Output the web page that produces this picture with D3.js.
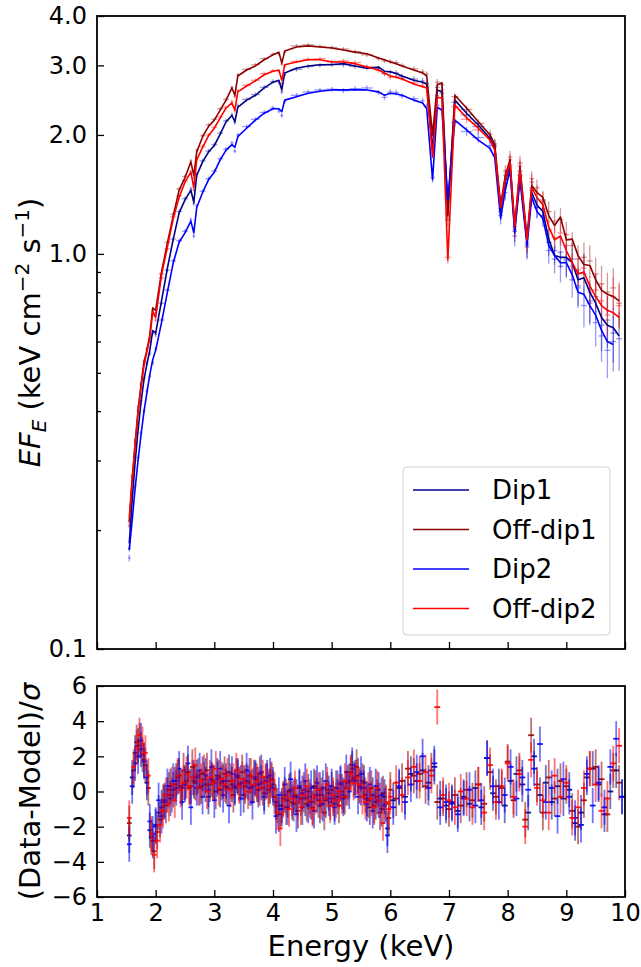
<!DOCTYPE html>
<html>
<head>
<meta charset="utf-8">
<script src="https://cdn.jsdelivr.net/npm/d3@7"></script>
<style>
  html, body { margin: 0; padding: 0; background: #fff; }
  svg { display: block; font-family: "DejaVu Sans", sans-serif; }
</style>
</head>
<body>
<div id="chart"></div>
<script>
// energies (keV) of the spectral bins shown in the upper panel
const energy = [
  1.55, 1.60, 1.65, 1.70, 1.75, 1.80, 1.85, 1.90, 1.95, 2.00,
  2.10, 2.20, 2.30, 2.40, 2.50, 2.60, 2.65, 2.70, 2.80, 2.90,
  3.00, 3.10, 3.20, 3.30, 3.35, 3.40, 3.55, 3.70, 3.85, 4.00,
  4.10, 4.15, 4.20, 4.40, 4.60, 4.80, 5.00, 5.20, 5.40, 5.60,
  5.80, 5.90, 6.00, 6.10, 6.20, 6.40, 6.55, 6.62, 6.72, 6.80,
  6.88, 6.98, 7.10, 7.30, 7.50, 7.70, 7.78, 7.88, 7.96, 8.04,
  8.12, 8.21, 8.33, 8.41, 8.50, 8.60, 8.70, 8.80, 8.90, 9.00,
  9.10, 9.20, 9.30, 9.40, 9.50, 9.60, 9.70, 9.80, 9.90
];

// model EF_E (keV cm^-2 s^-1)
const modelDip1 = [
  0.185, 0.238, 0.297, 0.358, 0.42, 0.48, 0.525, 0.57, 0.64, 0.63,
  0.76, 0.92, 1.09, 1.27, 1.37, 1.45, 1.35, 1.58, 1.71, 1.81,
  1.88, 2.01, 2.16, 2.24, 2.16, 2.35, 2.45, 2.52, 2.63, 2.72,
  2.75, 2.60, 2.87, 2.95, 2.99, 3.01, 3.01, 3.03, 2.99, 2.95,
  2.97, 2.90, 2.89, 2.86, 2.82, 2.75, 2.72, 2.69, 1.83, 2.60,
  2.57, 1.29, 2.45, 2.27, 2.12, 1.96, 1.85, 1.29, 1.52, 1.68,
  1.15, 1.58, 1.07, 1.43, 1.33, 1.28, 1.09, 0.99, 0.98, 0.98,
  0.95, 0.86, 0.87, 0.80, 0.75, 0.69, 0.66, 0.65, 0.62
];
const modelOff1 = [
  0.21, 0.268, 0.332, 0.403, 0.466, 0.532, 0.57, 0.623, 0.73, 0.72,
  0.90, 1.066, 1.25, 1.45, 1.56, 1.71, 1.58, 1.81, 1.98, 2.10,
  2.18, 2.31, 2.45, 2.63, 2.52, 2.82, 2.92, 2.99, 3.10, 3.19,
  3.24, 3.04, 3.26, 3.34, 3.36, 3.34, 3.32, 3.28, 3.24, 3.21,
  3.13, 3.10, 3.06, 3.03, 2.99, 2.92, 2.87, 2.82, 2.00, 2.68,
  2.71, 1.25, 2.52, 2.34, 2.16, 2.00, 1.89, 1.33, 1.58, 1.73,
  1.18, 1.66, 1.10, 1.49, 1.43, 1.39, 1.25, 1.18, 1.24, 1.085,
  1.09, 0.99, 0.94, 0.935, 0.86, 0.81, 0.79, 0.78, 0.76
];
const modelDip2 = [
  0.178, 0.212, 0.255, 0.30, 0.348, 0.398, 0.445, 0.495, 0.54, 0.57,
  0.67, 0.80, 0.95, 1.07, 1.13, 1.21, 1.13, 1.31, 1.43, 1.54,
  1.61, 1.73, 1.83, 1.89, 1.86, 1.98, 2.08, 2.18, 2.27, 2.33,
  2.33, 2.29, 2.45, 2.50, 2.55, 2.58, 2.60, 2.60, 2.60, 2.60,
  2.57, 2.52, 2.55, 2.54, 2.52, 2.45, 2.41, 2.33, 1.54, 2.35,
  2.31, 1.37, 2.18, 2.06, 1.94, 1.85, 1.75, 1.23, 1.45, 1.63,
  1.13, 1.54, 1.05, 1.39, 1.28, 1.23, 1.05, 0.99, 0.95, 0.95,
  0.885, 0.80, 0.79, 0.74, 0.70, 0.64, 0.60, 0.59, null
];
const modelOff2 = [
  0.215, 0.27, 0.328, 0.396, 0.458, 0.52, 0.565, 0.613, 0.715, 0.69,
  0.885, 1.04, 1.23, 1.39, 1.52, 1.61, 1.47, 1.73, 1.86, 1.99,
  2.08, 2.21, 2.34, 2.41, 2.31, 2.57, 2.66, 2.74, 2.84, 2.90,
  2.92, 2.75, 3.01, 3.06, 3.10, 3.10, 3.06, 3.06, 3.03, 2.97,
  2.92, 2.87, 2.82, 2.80, 2.77, 2.69, 2.65, 2.63, 1.76, 2.49,
  2.48, 0.965, 2.38, 2.21, 2.08, 1.94, 1.83, 1.31, 1.54, 1.70,
  1.17, 1.63, 1.085, 1.47, 1.39, 1.33, 1.17, 1.085, 1.11, 1.02,
  0.95, 0.89, 0.90, 0.83, 0.78, 0.74, 0.72, 0.71, 0.69
];

// measured EF_E at the same energies
const dataDip1 = [
  0.18, 0.242, 0.30, 0.362, 0.425, 0.485, 0.53, 0.56, 0.63, 0.625,
  0.75, 0.91, 1.09, 1.28, 1.38, 1.46, 1.34, 1.59, 1.72, 1.82,
  1.89, 2.02, 2.17, 2.25, 2.15, 2.37, 2.46, 2.53, 2.64, 2.73,
  2.72, 2.57, 2.84, 2.93, 2.98, 3.00, 3.02, 3.01, 2.98, 2.96,
  2.95, 2.86, 2.88, 2.87, 2.81, 2.77, 2.74, 2.70, 1.85, 2.64,
  2.55, 1.27, 2.42, 2.25, 2.10, 1.97, 1.88, 1.28, 1.51, 1.68,
  1.14, 1.62, 1.05, 1.47, 1.31, 1.30, 1.07, 0.97, 1.01, 0.96,
  0.97, 0.83, 0.89, 0.76, 0.78, 0.66, 0.68, 0.60, 0.61
];
const dataOff1 = [
  0.205, 0.272, 0.338, 0.41, 0.47, 0.535, 0.575, 0.61, 0.72, 0.71,
  0.89, 1.07, 1.26, 1.46, 1.57, 1.72, 1.56, 1.83, 1.99, 2.12,
  2.19, 2.33, 2.46, 2.64, 2.50, 2.84, 2.93, 3.01, 3.12, 3.20,
  3.21, 3.02, 3.24, 3.36, 3.38, 3.35, 3.33, 3.30, 3.25, 3.19,
  3.12, 3.08, 3.07, 3.05, 3.00, 2.94, 2.89, 2.85, 2.02, 2.72,
  2.68, 1.22, 2.50, 2.32, 2.14, 2.01, 1.90, 1.35, 1.62, 1.76,
  1.17, 1.70, 1.06, 1.55, 1.47, 1.37, 1.28, 1.21, 1.22, 1.12,
  1.05, 0.97, 0.98, 0.96, 0.89, 0.84, 0.80, 0.82, 0.75
];
const dataDip2 = [
  0.17, 0.216, 0.258, 0.305, 0.352, 0.40, 0.45, 0.49, 0.53, 0.575,
  0.68, 0.81, 0.96, 1.08, 1.14, 1.22, 1.11, 1.32, 1.44, 1.55,
  1.62, 1.74, 1.84, 1.91, 1.82, 2.00, 2.10, 2.19, 2.28, 2.34,
  2.30, 2.24, 2.43, 2.52, 2.57, 2.60, 2.61, 2.59, 2.62, 2.63,
  2.56, 2.49, 2.57, 2.56, 2.51, 2.47, 2.44, 2.36, 1.56, 2.38,
  2.33, 1.40, 2.15, 2.04, 1.97, 1.88, 1.79, 1.25, 1.43, 1.66,
  1.11, 1.58, 1.04, 1.45, 1.31, 1.25, 1.02, 1.02, 0.93, 0.97,
  0.86, 0.82, 0.74, 0.75, 0.67, 0.62, 0.57, 0.63, null
];
const dataOff2 = [
  0.21, 0.275, 0.333, 0.40, 0.465, 0.525, 0.57, 0.60, 0.70, 0.68,
  0.87, 1.03, 1.24, 1.40, 1.53, 1.62, 1.45, 1.74, 1.87, 2.00,
  2.09, 2.22, 2.35, 2.43, 2.30, 2.59, 2.67, 2.75, 2.86, 2.91,
  2.90, 2.70, 2.99, 3.07, 3.11, 3.12, 3.07, 3.08, 3.05, 2.98,
  2.91, 2.86, 2.80, 2.81, 2.78, 2.71, 2.67, 2.64, 1.79, 2.52,
  2.60, 0.98, 2.36, 2.19, 2.06, 1.96, 1.86, 1.30, 1.58, 1.73,
  1.15, 1.67, 1.07, 1.52, 1.42, 1.36, 1.15, 1.10, 1.13, 1.05,
  0.93, 0.91, 0.92, 0.80, 0.81, 0.76, 0.70, 0.78, 0.74
];

// 1-sigma errors in percent
const errOff = [
  1.5, 1.4, 1.3, 1.2, 1.2, 1.2, 1.1, 1.1, 1.1, 1.1,
  1.0, 1.0, 1.0, 1.0, 1.0, 1.0, 1.0, 1.0, 1.0, 1.0,
  1.0, 1.0, 1.0, 1.0, 1.0, 1.0, 1.0, 1.0, 1.0, 1.0,
  1.0, 1.0, 1.0, 1.1, 1.1, 1.1, 1.1, 1.1, 1.2, 1.2,
  1.2, 1.2, 1.3, 1.3, 1.3, 1.4, 1.5, 1.5, 2.5, 1.8,
  1.8, 3.5, 2.0, 2.2, 2.4, 2.6, 2.8, 4.0, 3.5, 3.5,
  5.0, 4.0, 5.5, 4.5, 5.0, 5.5, 6.0, 6.5, 7.0, 7.5,
  8.0, 8.5, 9.0, 9.5, 10, 11, 12, 12, 13
];
const errDip = [
  2.0, 1.8, 1.7, 1.6, 1.5, 1.5, 1.4, 1.4, 1.4, 1.4,
  1.3, 1.3, 1.3, 1.3, 1.3, 1.3, 1.3, 1.3, 1.3, 1.3,
  1.3, 1.3, 1.3, 1.3, 1.3, 1.3, 1.3, 1.3, 1.3, 1.3,
  1.3, 1.3, 1.3, 1.3, 1.3, 1.3, 1.4, 1.4, 1.4, 1.4,
  1.4, 1.5, 1.5, 1.6, 1.6, 1.7, 1.8, 1.8, 3.0, 2.2,
  2.2, 4.0, 2.5, 2.7, 3.0, 3.2, 3.5, 5.0, 4.5, 4.5,
  6.0, 5.0, 7.0, 5.5, 6.0, 6.5, 7.5, 8.0, 9.0, 9.5,
  10, 11, 12, 12, 13, 14, 15, 16, 17
];

// residual panel energies (keV): dip spectra and off-dip spectra
const resEnergyDip = [
  1.55, 1.60, 1.65, 1.70, 1.75, 1.80, 1.85, 1.90, 1.95, 2.00,
  2.05, 2.10, 2.15, 2.20, 2.25, 2.30, 2.35, 2.40, 2.45, 2.50,
  2.55, 2.60, 2.65, 2.70, 2.75, 2.80, 2.85, 2.90, 2.95, 3.00,
  3.05, 3.10, 3.15, 3.20, 3.25, 3.30, 3.35, 3.40, 3.45, 3.50,
  3.55, 3.60, 3.65, 3.70, 3.75, 3.80, 3.85, 3.90, 3.95, 4.00,
  4.05, 4.10, 4.15, 4.20, 4.25, 4.30, 4.35, 4.40, 4.45, 4.50,
  4.55, 4.60, 4.65, 4.70, 4.75, 4.80, 4.85, 4.90, 4.95, 5.00,
  5.05, 5.10, 5.15, 5.20, 5.25, 5.30, 5.35, 5.40, 5.45, 5.50,
  5.55, 5.60, 5.65, 5.70, 5.75, 5.80, 5.85, 5.90, 5.95,
  6.05, 6.15, 6.25, 6.35, 6.45, 6.55, 6.65, 6.75, 6.85, 6.95,
  7.05, 7.15, 7.25, 7.35, 7.45, 7.55, 7.65, 7.75, 7.85, 7.95,
  8.05, 8.15, 8.25, 8.35, 8.45, 8.55, 8.65, 8.75, 8.85, 8.95,
  9.05, 9.15, 9.25, 9.35, 9.45, 9.55, 9.65, 9.75, 9.85, 9.95
];
const resEnergyOff = [
  1.55, 1.625, 1.675, 1.725, 1.775, 1.825, 1.875, 1.925, 1.975, 2.025,
  2.075, 2.125, 2.175, 2.225, 2.275, 2.325, 2.375, 2.425, 2.475, 2.525,
  2.575, 2.625, 2.675, 2.725, 2.775, 2.825, 2.875, 2.925, 2.975, 3.025,
  3.075, 3.125, 3.175, 3.225, 3.275, 3.325, 3.375, 3.425, 3.475, 3.525,
  3.575, 3.625, 3.675, 3.725, 3.775, 3.825, 3.875, 3.925, 3.975, 4.025,
  4.075, 4.125, 4.175, 4.225, 4.275, 4.325, 4.375, 4.425, 4.475, 4.525,
  4.575, 4.625, 4.675, 4.725, 4.775, 4.825, 4.875, 4.925, 4.975, 5.025,
  5.075, 5.125, 5.175, 5.225, 5.275, 5.325, 5.375, 5.425, 5.475, 5.525,
  5.575, 5.625, 5.675, 5.725, 5.775, 5.825, 5.875, 5.925, 5.975,
  6.00, 6.10, 6.20, 6.30, 6.40, 6.50, 6.60, 6.70, 6.80, 6.90,
  7.00, 7.10, 7.20, 7.30, 7.40, 7.50, 7.60, 7.70, 7.80, 7.90,
  8.00, 8.10, 8.20, 8.30, 8.40, 8.50, 8.60, 8.70, 8.80, 8.90,
  9.00, 9.10, 9.20, 9.30, 9.40, 9.50, 9.60, 9.70, 9.80, 9.90
];

// (Data-Model)/sigma
const resDip1 = [
  -2.5, 0.8, 2.2, 2.6, 2.4, 1.8, 0.5, -2.2, -2.8, -1.9,
  -1.2, -0.9, -0.5, -0.2, 0.3, 0.1, 0.6, 0.9, 0.2, 0.5,
  1.1, 0.3, 0.6, 0.8, 0.2, 1.0, 0.4, -0.3, 0.7, 0.5,
  0.9, 0.1, 0.6, 0.3, 1.1, 0.4, 0.2, 0.8, 0.5, -0.2,
  0.6, 0.9, 0.3, 0.7, 0.1, 0.5, -0.1, 0.8, 0.3, 0.4,
  -0.6, -1.3, -0.8, -0.2, -0.5, 0.1, -0.7, -0.3, 0.2, -0.9,
  -0.4, 0.0, -0.6, 0.3, -0.2, -0.8, 0.2, -0.5, -0.1, 0.1,
  -0.7, -0.3, 0.4, -0.4, 0.2, 0.6, 1.3, 0.8, 0.9, 0.2,
  0.5, -0.4, -0.9, -0.2, -0.6, 0.1, -1.0, -0.3, -2.1,
  -0.5, 0.2, -0.3, 1.0, 0.6, 1.2, 0.5, 1.4, -0.4, -0.8,
  -0.6, -1.1, -0.3, -0.7, 0.2, -0.9, 1.9, -0.1, 0.3, -0.8,
  0.6, 1.0, 0.4, -1.2, 2.0, -0.2, 0.5, -0.6, 0.3, -0.4,
  0.1, -1.8, -1.2, 0.8, 1.3, 0.4, -1.3, 0.0, 1.2, -0.3
];
const resOff1 = [
  -1.8, 1.2, 2.8, 2.9, 2.1, 1.5, 0.2, -2.6, -3.4, -2.3,
  -1.6, -0.6, -0.8, 0.1, -0.2, 0.4, 0.8, 0.3, 1.2, 0.6,
  0.2, 1.4, 0.5, 0.9, 0.3, 0.7, 1.2, 0.4, 0.6, 0.0,
  0.8, 0.5, 1.0, 0.2, 0.6, -0.2, 0.9, 0.4, 1.1, 0.3,
  0.5, 0.2, 0.8, 0.4, 1.0, 0.2, 0.6, 0.1, 0.7, -0.3,
  -0.8, -1.0, -0.4, -0.9, 0.0, -0.6, -0.2, -1.1, -0.4, 0.1,
  -0.7, -0.3, -0.9, 0.2, -0.5, -0.2, -1.2, 0.1, -0.6, -0.4,
  0.2, -0.8, 0.0, -0.3, 0.5, 1.1, 0.7, 1.4, 0.3, 0.6,
  -0.2, -0.5, 0.2, -0.8, -0.3, -1.2, -0.1, -0.7, -1.5,
  0.1, -0.4, 0.6, 1.3, 0.9, 1.0, 0.3, 1.2, -0.6, -0.4,
  -1.0, -0.2, -0.8, 0.1, -0.5, 0.4, -0.7, 1.1, -0.3, 0.2,
  1.7, -0.5, 1.2, -1.6, 3.2, 0.4, -1.2, 0.8, -0.4, 0.6,
  0.3, -1.1, -2.0, -0.5, 1.3, 1.4, 0.7, -1.3, 1.2, 0.5
];
const resDip2 = [
  -3.0, 0.3, 1.6, 2.0, 2.9, 1.7, 0.8, -1.7, -2.4, -2.0,
  -0.5, -1.4, -0.6, 0.3, -0.4, 0.6, 0.2, 1.3, -0.6, 0.4,
  1.6, -0.9, 0.8, 0.2, 1.2, -0.3, 0.9, 0.1, 1.4, -0.5,
  0.7, 1.3, -0.2, 0.6, -0.8, 1.0, 0.3, 0.9, -0.4, 0.5,
  1.2, 0.2, -0.6, 0.8, 0.4, 1.1, -0.3, 0.6, 0.9, 0.2,
  -1.4, -0.2, -1.0, 0.4, -0.9, 0.7, -0.3, -1.3, 0.3, -0.1,
  0.6, -0.8, 0.2, -1.1, 0.5, 0.1, -0.7, 0.6, -0.4, 0.3,
  -0.9, 0.2, 0.5, -0.2, 1.1, 0.0, 1.5, 0.6, -0.3, 1.0,
  0.2, -0.7, 0.4, -1.1, 0.3, -0.5, -0.2, -0.8, -2.5,
  -0.9, 0.3, -0.6, 0.4, 1.1, 2.0, 0.2, 1.6, -0.9, -0.6,
  -0.7, -1.3, -0.4, 0.1, -0.8, -0.5, 1.9, 0.3, -0.6, -0.2,
  1.4, -0.4, 0.8, 0.1, 1.3, 2.7, -0.6, 0.2, -1.4, 0.7,
  -0.3, -1.5, -1.9, 1.0, -0.8, 0.5, -0.9, 1.4, 3.0, -0.3
];
const resOff2 = [
  -1.5, 1.4, 2.5, 3.2, 2.7, 2.2, 0.9, -2.4, -3.6, -2.8,
  -1.9, -1.1, -0.2, -0.7, 0.4, -0.5, 0.9, 0.1, 0.5, 1.0,
  0.3, 0.8, 1.5, 0.2, 0.6, 1.1, 0.0, 0.8, 0.5, 1.3,
  0.2, 0.7, 0.4, 0.9, 0.1, 0.6, 1.2, 0.3, 0.7, 0.5,
  0.0, 0.9, 0.4, 0.6, 0.2, 0.8, 0.5, 0.3, 0.6, 0.1,
  -1.2, -2.1, -0.5, -0.3, -1.0, -0.4, 0.2, -0.6, -0.9, -0.2,
  0.3, -0.5, -1.0, -0.3, 0.1, -0.6, -0.4, 0.4, -0.8, -0.2,
  -0.5, 0.0, -0.3, 0.6, 0.2, 1.0, 0.5, 0.8, 0.4, -0.3,
  -0.6, 0.1, -0.4, -0.9, 0.2, -0.5, -1.8, -0.6, -1.0,
  -0.3, 0.5, -0.2, 0.8, 1.4, 0.6, 1.1, 0.9, 4.8, -0.2,
  -0.5, -0.9, 0.0, -0.4, -0.9, 0.4, -1.2, 1.5, -0.6, 0.3,
  1.6, -0.3, 1.0, -2.0, 1.8, 0.2, -0.5, -1.2, 0.9, -0.3,
  0.5, -1.5, -0.9, 0.2, 1.3, 0.4, -1.1, -0.4, 1.6, 2.6
];

const seriesNames = ["Dip1", "Off-dip1", "Dip2", "Off-dip2"];
const seriesColors = ["#00008b", "#8b0000", "#0000ff", "#ff0000"];
const yTickValues = [0.1, 1.0, 2.0, 3.0, 4.0];
const yMinorValues = [0.2, 0.3, 0.4, 0.5, 0.6, 0.7, 0.8, 0.9];
const xTickValues = [1, 2, 3, 4, 5, 6, 7, 8, 9, 10];
const resTickValues = [-6, -4, -2, 0, 2, 4, 6];

const series = seriesNames.map((name, i) => ({
    name,
    color: seriesColors[i],
    model: [modelDip1, modelOff1, modelDip2, modelOff2][i],
    data: [dataDip1, dataOff1, dataDip2, dataOff2][i],
    err: [errDip, errOff, errDip, errOff][i],
    resE: [resEnergyDip, resEnergyOff, resEnergyDip, resEnergyOff][i],
    res: [resDip1, resOff1, resDip2, resOff2][i]
}));

const width = 641, height = 967;
const left = 97, right = 625;
const topY0 = 16, topY1 = 649;
const resY0 = 686, resY1 = 897;

const svg = d3.select("#chart").append("svg")
    .attr("width", width)
    .attr("height", height);

const x = d3.scaleLinear().domain([1, 10]).range([left, right]);
const y = d3.scaleLog().domain([0.1, 4]).range([topY1, topY0]);
const yr = d3.scaleLinear().domain([-6, 6]).range([resY1, resY0]);

// half bin width from neighbouring bins
function halfWidths(arr) {
    return arr.map((e, i) => {
        const prev = i > 0 ? e - arr[i - 1] : arr[1] - arr[0];
        const next = i < arr.length - 1 ? arr[i + 1] - e : prev;
        return Math.min(prev, next) / 2;
    });
}
const hwTop = halfWidths(energy);

// clip paths
const defs = svg.append("defs");
defs.append("clipPath").attr("id", "clipTop").append("rect")
    .attr("x", left).attr("y", topY0).attr("width", right - left).attr("height", topY1 - topY0);
defs.append("clipPath").attr("id", "clipRes").append("rect")
    .attr("x", left).attr("y", resY0).attr("width", right - left).attr("height", resY1 - resY0);

// ---- upper panel: data points
const topG = svg.append("g").attr("clip-path", "url(#clipTop)");

series.forEach(s => {
    const pts = energy.map((e, i) => ({ e, v: s.data[i], err: s.err[i] / 100, hw: hwTop[i] }))
        .filter(d => d.v != null);
    const g = topG.append("g").attr("stroke", s.color).attr("stroke-opacity", 0.4).attr("stroke-width", 1.3);
    g.selectAll("line.v").data(pts).enter().append("line")
        .attr("class", "v")
        .attr("x1", d => x(d.e)).attr("x2", d => x(d.e))
        .attr("y1", d => y(d.v * (1 - d.err))).attr("y2", d => y(d.v * (1 + d.err)));
    g.selectAll("line.h").data(pts).enter().append("line")
        .attr("class", "h")
        .attr("x1", d => x(d.e - d.hw)).attr("x2", d => x(d.e + d.hw))
        .attr("y1", d => y(d.v)).attr("y2", d => y(d.v));
});

// model lines
const line = d3.line()
    .defined(d => d[1] != null)
    .x(d => x(d[0]))
    .y(d => y(d[1]));

series.forEach(s => {
    topG.append("path")
        .datum(energy.map((e, i) => [e, s.model[i]]))
        .attr("fill", "none")
        .attr("stroke", s.color)
        .attr("stroke-width", 1.6)
        .attr("stroke-linejoin", "round")
        .attr("d", line);
});

// ---- lower panel: residuals
const resG = svg.append("g").attr("clip-path", "url(#clipRes)");
series.forEach(s => {
    const hw = halfWidths(s.resE);
    const pts = s.resE.map((e, i) => ({ e, r: s.res[i], hw: Math.max(hw[i], 0.04) }));
    const g = resG.append("g").attr("stroke", s.color);
    g.selectAll("line.v").data(pts).enter().append("line")
        .attr("class", "v")
        .attr("stroke-width", 1.8)
        .attr("stroke-opacity", 0.55)
        .attr("x1", d => x(d.e)).attr("x2", d => x(d.e))
        .attr("y1", d => yr(d.r - 1)).attr("y2", d => yr(d.r + 1));
    g.selectAll("line.h").data(pts).enter().append("line")
        .attr("class", "h")
        .attr("stroke-width", 1.8)
        .attr("stroke-opacity", 0.9)
        .attr("x1", d => x(d.e - d.hw)).attr("x2", d => x(d.e + d.hw))
        .attr("y1", d => yr(d.r)).attr("y2", d => yr(d.r));
});

// ---- axes
function styleAxis(g) {
    g.select(".domain").remove();
    g.selectAll(".tick line").attr("stroke", "#000").attr("stroke-width", 1.3);
    g.selectAll(".tick text")
        .attr("fill", "#000")
        .style("font-family", "DejaVu Sans")
        .style("font-size", "24px");
}

svg.append("g")
    .attr("transform", `translate(0,${topY1})`)
    .call(d3.axisBottom(x).tickValues(xTickValues).tickSize(-7).tickFormat(""))
    .call(styleAxis);

svg.append("g")
    .attr("transform", `translate(${left},0)`)
    .call(d3.axisLeft(y).tickValues(yTickValues).tickSize(-7).tickPadding(10).tickFormat(d3.format(".1f")))
    .call(styleAxis);

svg.append("g")
    .attr("transform", `translate(${left},0)`)
    .call(d3.axisLeft(y).tickValues(yMinorValues).tickSize(-4).tickFormat(""))
    .call(styleAxis);

svg.append("g")
    .attr("transform", `translate(0,${resY1})`)
    .call(d3.axisBottom(x).tickValues(xTickValues).tickSize(-7).tickPadding(7).tickFormat(d3.format("d")))
    .call(styleAxis);

svg.append("g")
    .attr("transform", `translate(${left},0)`)
    .call(d3.axisLeft(yr).tickValues(resTickValues).tickSize(-7).tickPadding(10).tickFormat(d3.format("d")))
    .call(styleAxis);

// frames
[[topY0, topY1], [resY0, resY1]].forEach(([a, b]) => {
    svg.append("rect")
        .attr("x", left).attr("y", a)
        .attr("width", right - left).attr("height", b - a)
        .attr("fill", "none")
        .attr("stroke", "#000")
        .attr("stroke-width", 1.8);
});

// axis labels
svg.append("text")
    .attr("x", (left + right) / 2)
    .attr("y", 956)
    .attr("text-anchor", "middle")
    .style("font-size", "29px")
    .text("Energy (keV)");

const yl = svg.append("text")
    .attr("transform", `translate(40,${(topY0 + topY1) / 2}) rotate(-90)`)
    .attr("text-anchor", "middle")
    .style("font-size", "29px");
yl.append("tspan").style("font-style", "italic").text("EF");
yl.append("tspan").style("font-style", "italic").style("font-size", "20px").attr("dy", 6).text("E");
yl.append("tspan").attr("dy", -6).text(" (keV cm");
yl.append("tspan").style("font-size", "20px").attr("dy", -11).text("\u22122");
yl.append("tspan").attr("dy", 11).text(" s");
yl.append("tspan").style("font-size", "20px").attr("dy", -11).text("\u22121");
yl.append("tspan").attr("dy", 11).text(")");

const rl = svg.append("text")
    .attr("transform", `translate(40,${(resY0 + resY1) / 2}) rotate(-90)`)
    .attr("text-anchor", "middle")
    .style("font-size", "29px");
rl.append("tspan").text("(Data-Model)/");
rl.append("tspan").style("font-style", "italic").text("\u03c3");

// legend
const legend = svg.append("g").attr("class", "legend");
legend.append("rect")
    .attr("x", 403).attr("y", 467)
    .attr("width", 207).attr("height", 168)
    .attr("rx", 4)
    .attr("fill", "#fff").attr("fill-opacity", 0.8)
    .attr("stroke", "#d0d0d0").attr("stroke-width", 1);

const items = legend.selectAll("g.item").data(series).enter().append("g")
    .attr("class", "item")
    .attr("transform", (d, i) => `translate(0,${490 + i * 39.5})`);
items.append("line")
    .attr("x1", 413).attr("x2", 469)
    .attr("stroke", d => d.color).attr("stroke-width", 1.6);
items.append("text")
    .attr("x", 492)
    .attr("dy", "0.36em")
    .style("font-size", "26px")
    .text(d => d.name);
</script>
</body>
</html>
